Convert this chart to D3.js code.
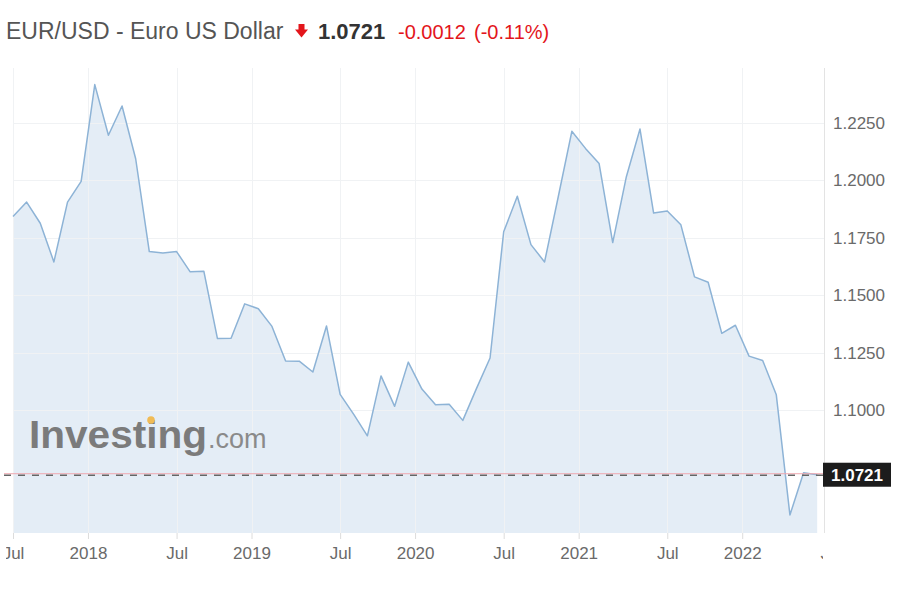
<!DOCTYPE html>
<html><head><meta charset="utf-8">
<script src="https://cdn.jsdelivr.net/npm/d3@7"></script>
<style>
body{margin:0;background:#fff;}
svg{display:block;font-family:"Liberation Sans",Arial,sans-serif;}
</style>
</head><body>
<svg id="chart" width="900" height="600"></svg>
<script>
// ---- data (monthly closes) ----
const months = [
 "2017-07","2017-08","2017-09","2017-10","2017-11","2017-12",
 "2018-01","2018-02","2018-03","2018-04","2018-05","2018-06",
 "2018-07","2018-08","2018-09","2018-10","2018-11","2018-12",
 "2019-01","2019-02","2019-03","2019-04","2019-05","2019-06",
 "2019-07","2019-08","2019-09","2019-10","2019-11","2019-12",
 "2020-01","2020-02","2020-03","2020-04","2020-05","2020-06",
 "2020-07","2020-08","2020-09","2020-10","2020-11","2020-12",
 "2021-01","2021-02","2021-03","2021-04","2021-05","2021-06",
 "2021-07","2021-08","2021-09","2021-10","2021-11","2021-12",
 "2022-01","2022-02","2022-03","2022-04","2022-05","2022-06"
];
const closes = [
 1.1842,1.1905,1.1813,1.1645,1.1905,1.1995,
 1.2415,1.2195,1.2322,1.2093,1.1690,1.1684,
 1.1690,1.1602,1.1605,1.1312,1.1314,1.1463,
 1.1442,1.1365,1.1215,1.1214,1.1167,1.1367,
 1.1070,1.0983,1.0890,1.1150,1.1018,1.1210,
 1.1093,1.1025,1.1027,1.0957,1.1095,1.1228,
 1.1776,1.1930,1.1720,1.1645,1.1927,1.2212,
 1.2138,1.2072,1.1729,1.2015,1.2222,1.1857,
 1.1866,1.1806,1.1580,1.1557,1.1335,1.1370,
 1.1236,1.1217,1.1068,1.0546,1.0730,1.0721
];
const yTickValues = [1.1000,1.1250,1.1500,1.1750,1.2000,1.2250];
const xTickLabels = ["Jul","2018","Jul","2019","Jul","2020","Jul","2021","Jul","2022","Jul"];
const xTickMonths = ["2017-07","2018-01","2018-07","2019-01","2019-07","2020-01","2020-07","2021-01","2021-07","2022-01","2022-07"];
const lastPrice = 1.0721;
const titleName = "EUR/USD - Euro US Dollar";
const priceText = "1.0721";
const changeText = "-0.0012";
const changePctText = "(-0.11%)";

// ---- layout ----
const plotLeft = 13, plotRight = 824, plotTop = 68, plotBottom = 533;
const svg = d3.select("#chart");

function monthIndex(m){
  const [yy, mm] = m.split("-").map(Number);
  return (yy - 2017) * 12 + (mm - 7);
}
// year labels sit halfway between the December and January points
const xTickPos = xTickMonths.map(m => monthIndex(m) - (m.endsWith("-01") ? 0.5 : 0));

const x = d3.scaleLinear().domain([0, 59.5]).range([plotLeft, plotRight]);
const y = d3.scaleLinear().domain([1.0468, 1.2487]).range([plotBottom, plotTop]);

const data = months.map((m, i) => ({m, i, v: closes[i]}));

const defs = svg.append("defs");
defs.append("clipPath").attr("id","plotClip")
  .append("rect").attr("x",0).attr("y",plotTop).attr("width",plotRight).attr("height",plotBottom-plotTop);
defs.append("clipPath").attr("id","axClip")
  .append("rect").attr("x",6).attr("y",0).attr("width",plotRight-7).attr("height",60);

// area
svg.append("path").datum(data)
  .attr("clip-path","url(#plotClip)")
  .attr("fill","#e4edf6")
  .attr("d", d3.area().x(d=>x(d.i)).y0(plotBottom).y1(d=>y(d.v)));

// grid
const grid = svg.append("g").attr("clip-path","url(#plotClip)");
grid.selectAll("line.h").data(yTickValues).join("line")
  .attr("x1", plotLeft).attr("x2", plotRight)
  .attr("y1", d=>Math.round(y(d))+0.5).attr("y2", d=>Math.round(y(d))+0.5)
  .attr("stroke","#f0f2f4").attr("stroke-width",1);
grid.selectAll("line.v").data(xTickPos).join("line")
  .attr("x1", d=>Math.round(x(d))+0.5).attr("x2", d=>Math.round(x(d))+0.5)
  .attr("y1", plotTop).attr("y2", plotBottom)
  .attr("stroke","#f0f2f4").attr("stroke-width",1);

// watermark
const wm = svg.append("g");
wm.append("text").attr("x",29).attr("y",448)
  .attr("font-size",38).attr("font-weight","bold").attr("fill","#7b7b7b")
  .attr("textLength",178).attr("lengthAdjust","spacingAndGlyphs")
  .text("Investing");
wm.append("circle").attr("cx",151).attr("cy",420).attr("r",3.8).attr("fill","#f0bb55");
wm.append("text").attr("x",208).attr("y",448)
  .attr("font-size",27).attr("fill","#8a8a8a").text(".com");

// line
svg.append("path").datum(data)
  .attr("fill","none").attr("stroke","#8db3d6").attr("stroke-width",1.5)
  .attr("stroke-linejoin","round")
  .attr("d", d3.line().x(d=>x(d.i)).y(d=>y(d.v)));

// current price line
const yp = y(lastPrice);
svg.append("line").attr("x1",4).attr("x2",plotRight).attr("y1",yp-1).attr("y2",yp-1)
  .attr("stroke","#f0a8b0").attr("stroke-width",1);
svg.append("line").attr("x1",4).attr("x2",plotRight).attr("y1",yp+0.5).attr("y2",yp+0.5)
  .attr("stroke","#666").attr("stroke-width",1.6).attr("stroke-dasharray","7,7");

// right border
svg.append("line").attr("x1",plotRight+0.5).attr("x2",plotRight+0.5)
  .attr("y1",plotTop).attr("y2",plotBottom).attr("stroke","#e3e3e3");

// y axis
const yAxis = svg.append("g").attr("transform",`translate(${plotRight},0)`)
  .call(d3.axisRight(y).tickValues(yTickValues).tickFormat(d3.format(".4f")).tickSize(0).tickPadding(9));
yAxis.select(".domain").remove();
yAxis.selectAll("text").attr("font-size",17).attr("fill","#6a6a6a")
  .attr("font-family",'"Liberation Sans",Arial,sans-serif');

// price box
svg.append("rect").attr("x",823).attr("y",yp-12).attr("width",68).attr("height",24).attr("fill","#1c1c1c");
svg.append("text").attr("x",857).attr("y",yp+6).attr("text-anchor","middle")
  .attr("font-size",17).attr("font-weight","bold").attr("fill","#fff").text(lastPrice.toFixed(4));

// x axis
const xAxis = svg.append("g").attr("transform",`translate(0,${plotBottom})`)
  .attr("clip-path","url(#axClip)")
  .call(d3.axisBottom(x).tickValues(xTickPos).tickFormat((d,i)=>xTickLabels[i]).tickSize(6).tickPadding(8));
xAxis.select(".domain").remove();
xAxis.selectAll(".tick line").attr("stroke","#dcdcdc");
xAxis.selectAll("text").attr("font-size",17).attr("fill","#6a6a6a")
  .attr("font-family",'"Liberation Sans",Arial,sans-serif');

// title
const t = svg.append("g");
t.append("text").attr("x",6).attr("y",39).attr("font-size",23).attr("fill","#555").text(titleName);
t.append("path").attr("d","M298.5,24 h6 v5.5 h3.5 l-6.5,8 l-6.5,-8 h3.5 z").attr("fill","#e3151b");
t.append("text").attr("x",318).attr("y",39).attr("font-size",22).attr("font-weight","bold").attr("fill","#333").text(priceText);
t.append("text").attr("x",398).attr("y",39).attr("font-size",20).attr("fill","#e3151b").text(changeText);
t.append("text").attr("x",474).attr("y",39).attr("font-size",20).attr("fill","#e3151b").text(changePctText);
</script>
</body></html>
